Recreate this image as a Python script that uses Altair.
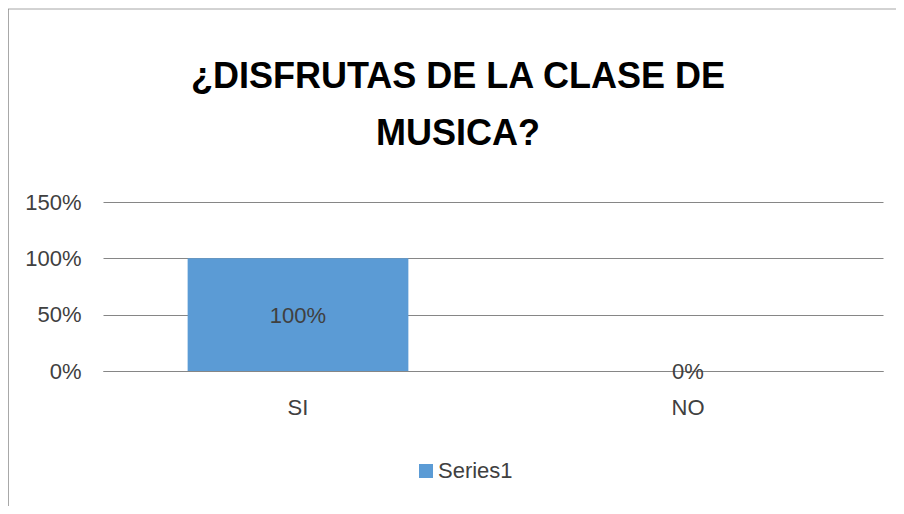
import altair as alt
import pandas as pd

categories = ["SI", "NO"]
values = [1.0, 0.0]
series = ["Series1", "Series1"]
title_lines = ["¿DISFRUTAS DE LA CLASE DE", "MUSICA?"]

FONT = "Liberation Sans Narrow, Liberation Sans, sans-serif"
GRID = "#868686"
TXT = "#404040"

df = pd.DataFrame({"cat": categories, "val": values, "series": series})
df["mid"] = df["val"] / 2

base = alt.Chart(df)

bars = base.mark_bar().encode(
    x=alt.X(
        "cat:N",
        sort=categories,
        scale=alt.Scale(paddingInner=0.434, paddingOuter=0.217),
        axis=alt.Axis(
            title=None, labelAngle=0, ticks=False, domain=True, domainColor=GRID,
            labelFontSize=22, labelPadding=26, labelColor=TXT, labelFont=FONT, grid=False,
        ),
    ),
    y=alt.Y(
        "val:Q",
        scale=alt.Scale(domain=[0, 1.5], nice=False),
        axis=alt.Axis(
            values=[0, 0.5, 1, 1.5], format=".0%", title=None, ticks=False, domain=False,
            gridColor=GRID, gridOpacity=1, labelFontSize=22, labelPadding=22,
            labelColor=TXT, labelFont=FONT,
        ),
    ),
    color=alt.Color(
        "series:N",
        scale=alt.Scale(range=["#5B9BD5"]),
        legend=alt.Legend(
            title=None, orient="none", legendX=312, legendY=258, symbolType="square",
            symbolSize=196, labelFontSize=22, labelFont=FONT, labelColor=TXT,
            padding=0, symbolStrokeWidth=0, labelOffset=1,
        ),
    ),
)

labels = base.mark_text(fontSize=22, font=FONT, color=TXT, baseline="middle", dy=1).encode(
    x=alt.X("cat:N", sort=categories),
    y=alt.Y("mid:Q"),
    text=alt.Text("val:Q", format=".0%"),
)

top_line = base.mark_rule(color="#c4c4c4", strokeWidth=1).encode(
    x=alt.value(-95), x2=alt.value(801), y=alt.value(-193)
)
left_line = base.mark_rule(color="#8c8c8c", strokeWidth=1).encode(
    x=alt.value(-95), y=alt.value(-193), y2=alt.value(304)
)

chart = (
    alt.layer(top_line, left_line, bars, labels)
    .properties(
        width=780,
        height=169,
        padding={"left": 95, "top": 194, "right": 13, "bottom": 135},
        autosize=alt.AutoSizeParams(type="none"),
        title=alt.TitleParams(
            text=title_lines, fontSize=36, font=FONT, fontWeight="bold", color="black",
            anchor="middle", baseline="bottom", offset=-180, dx=-35, lineHeight=57,
            frame="group",
        ),
    )
    .configure_view(stroke=None)
)

chart.save("out.html", embed_options={"renderer": "svg", "actions": False})
